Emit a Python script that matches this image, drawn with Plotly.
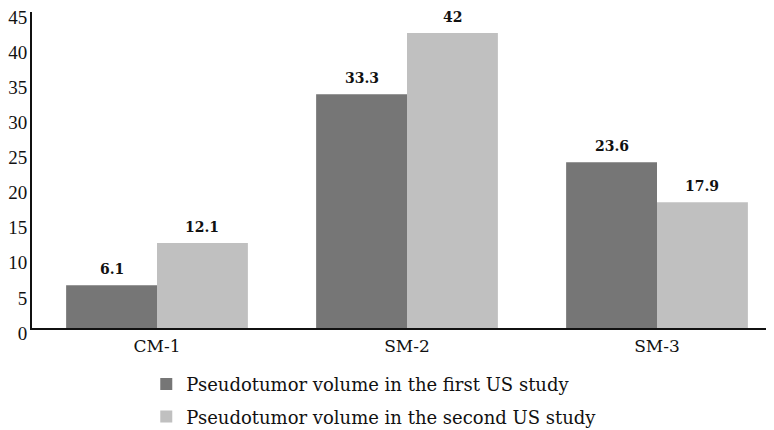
import plotly.graph_objects as go

categories = ["CM-1", "SM-2", "SM-3"]
first_study = [6.1, 33.3, 23.6]
second_study = [12.1, 42, 17.9]
series_names = ["Pseudotumor volume in the first US study",
                "Pseudotumor volume in the second US study"]
y_ticks = [0, 5, 10, 15, 20, 25, 30, 35, 40, 45]

FONT = "DejaVu Serif"
COLORS = ["#767676", "#c0c0c0"]

fig = go.Figure()
for name, vals, col, grp in [(series_names[0], first_study, COLORS[0], "a"),
                             (series_names[1], second_study, COLORS[1], "b")]:
    fig.add_trace(go.Bar(
        x=categories, y=vals, name=name, legendgroup=grp,
        marker=dict(color=col, line=dict(width=0)),
    ))

# value labels above bars
for vals, shift in [(first_study, -45), (second_study, 45)]:
    for c, v in zip(categories, vals):
        fig.add_annotation(x=c, y=v, text=f"<b>{v}</b>", showarrow=False,
                           xshift=shift, yshift=6, yanchor="bottom",
                           font=dict(family=FONT, size=14, color="#111"))

# page body adds an 8px offset, so the figure is 8px smaller
fig.update_layout(
    width=766, height=422,
    margin=dict(l=24, r=0, t=4, b=102, autoexpand=False),
    paper_bgcolor="white", plot_bgcolor="white",
    barmode="group", bargap=0.273, bargroupgap=0,
    font=dict(family=FONT, color="#111"),
    showlegend=True,
    legend=dict(orientation="v", x=0.154, xanchor="left", y=-0.12, yanchor="top",
                font=dict(family=FONT, size=18), itemwidth=30,
                tracegroupgap=6, bgcolor="rgba(0,0,0,0)"),
    xaxis=dict(showline=True, linecolor="#111", linewidth=2, ticks="",
               range=[-0.5, 2.468], automargin=False, ticklabelstandoff=2,
               tickfont=dict(family=FONT, size=17), showgrid=False),
    yaxis=dict(range=[0, 45], tickvals=y_ticks, showline=True, linecolor="#111",
               linewidth=2, ticks="", showgrid=False, zeroline=False, automargin=False,
               ticklabelshift=5, ticklabelstandoff=-1, ticklabeloverflow="allow",
               tickfont=dict(family="Liberation Serif", size=19)),
)

fig.write_html("out.html")
